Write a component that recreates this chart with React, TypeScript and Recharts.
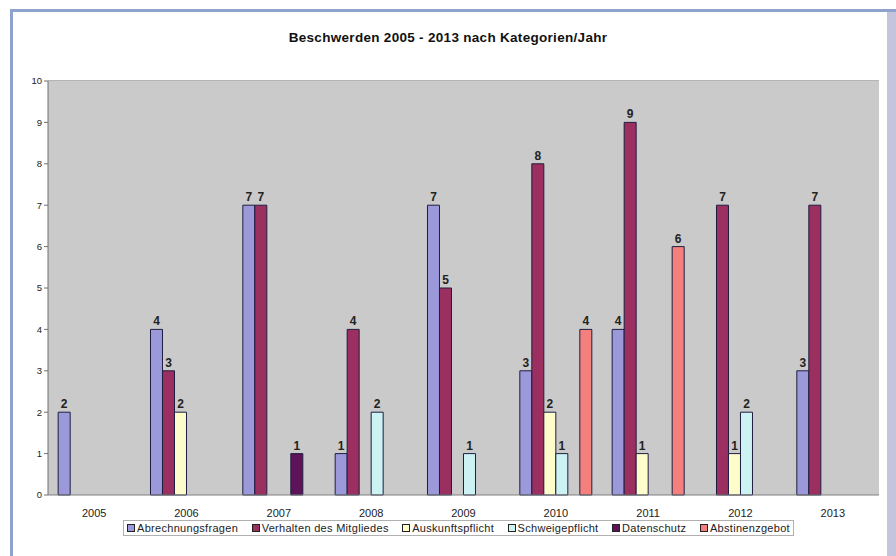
import { BarChart, Bar, XAxis, YAxis, CartesianGrid, LabelList } from "recharts";

const years = ["2005", "2006", "2007", "2008", "2009", "2010", "2011", "2012", "2013"];

const abrechnungsfragen = [2, 4, 7, 1, 7, 3, 4, null, 3];
const verhalten = [null, 3, 7, 4, 5, 8, 9, 7, 7];
const auskunftspflicht = [null, 2, null, null, null, 2, 1, 1, null];
const schweigepflicht = [null, null, null, 2, 1, 1, null, 2, null];
const datenschutz = [null, null, 1, null, null, null, null, null, null];
const abstinenzgebot = [null, null, null, null, null, 4, 6, null, null];

const yTicks = [0, 1, 2, 3, 4, 5, 6, 7, 8, 9, 10];

const series = [
  { key: "abr", name: "Abrechnungsfragen", values: abrechnungsfragen, color: "#9C99DA" },
  { key: "ver", name: "Verhalten des Mitgliedes", values: verhalten, color: "#9A2F60" },
  { key: "aus", name: "Auskunftspflicht", values: auskunftspflicht, color: "#FFFCCC" },
  { key: "sch", name: "Schweigepflicht", values: schweigepflicht, color: "#CCF2F4" },
  { key: "dat", name: "Datenschutz", values: datenschutz, color: "#5E1258" },
  { key: "abs", name: "Abstinenzgebot", values: abstinenzgebot, color: "#F4807E" },
];

const data = years.map((year, i) => {
  const row: Record<string, string | number | null> = { year };
  series.forEach((s) => {
    row[s.key] = s.values[i];
  });
  return row;
});

const font = "'Liberation Sans', Arial, sans-serif";

export default function App() {
  return (
    <div
      style={{
        position: "absolute",
        left: 0,
        top: 0,
        width: 896,
        height: 556,
        background: "#fff",
        fontFamily: font,
        overflow: "hidden",
      }}
    >
      {/* chart frame */}
      <div
        style={{
          position: "absolute",
          left: 10,
          top: 9,
          width: 900,
          height: 560,
          borderLeft: "3px solid #8FA2CC",
          borderTop: "3px solid #8FA2CC",
          boxSizing: "border-box",
        }}
      />
      <div style={{ position: "absolute", left: 887, top: 12, width: 9, height: 544, background: "#C4C4DE" }} />

      <div
        style={{
          position: "absolute",
          left: 0,
          top: 30,
          width: 896,
          textAlign: "center",
          fontSize: 13.5,
          letterSpacing: 0.3,
          fontWeight: "bold",
          color: "#111",
        }}
      >
        Beschwerden 2005 - 2013 nach Kategorien/Jahr
      </div>

      <div style={{ position: "absolute", left: 0, top: 0 }}>
        <BarChart
          width={896}
          height={556}
          data={data}
          margin={{ top: 81, right: 17, left: 0, bottom: 41 }}
          barCategoryGap="11%"
          barGap={0}
        >
          <CartesianGrid horizontal={false} vertical={false} fill="#CACACA" />
          <XAxis
            dataKey="year"
            height={20}
            tickLine={false}
            axisLine={{ stroke: "#808080" }}
            tick={{ fontSize: 11, fill: "#222", fontFamily: font }}
            tickMargin={8}
          />
          <YAxis
            width={48}
            domain={[0, 10]}
            ticks={yTicks}
            interval={0}
            tickSize={4}
            axisLine={{ stroke: "#707070" }}
            tickLine={{ stroke: "#707070" }}
            tick={{ fontSize: 9.5, fill: "#222", fontFamily: font }}
          />
          {series.map((s) => (
            <Bar
              key={s.key}
              dataKey={s.key}
              name={s.name}
              fill={s.color}
              stroke="#1e1e40"
              strokeWidth={1}
              isAnimationActive={false}
            >
              <LabelList
                dataKey={s.key}
                position="top"
                offset={4}
                style={{ fontSize: 12, fontWeight: "bold", fill: "#222", fontFamily: font }}
              />
            </Bar>
          ))}
        </BarChart>
      </div>

      {/* top edge of the plot area */}
      <div style={{ position: "absolute", left: 48, top: 80, width: 831, height: 1, background: "#B4B4B4" }} />

      {/* legend */}
      <div
        style={{
          position: "absolute",
          left: 123,
          top: 520,
          width: 671,
          height: 16,
          border: "1px solid #b0b0b0",
          boxSizing: "border-box",
          display: "flex",
          alignItems: "center",
          justifyContent: "space-between",
          padding: "0 3px",
          fontSize: 11,
          letterSpacing: 0.3,
          color: "#222",
        }}
      >
        {series.map((s) => (
          <span key={s.key} style={{ display: "flex", alignItems: "center" }}>
            <span
              style={{
                display: "inline-block",
                width: 6,
                height: 6,
                background: s.color,
                border: "1px solid #222",
                marginRight: 2,
              }}
            />
            {s.name}
          </span>
        ))}
      </div>
    </div>
  );
}
